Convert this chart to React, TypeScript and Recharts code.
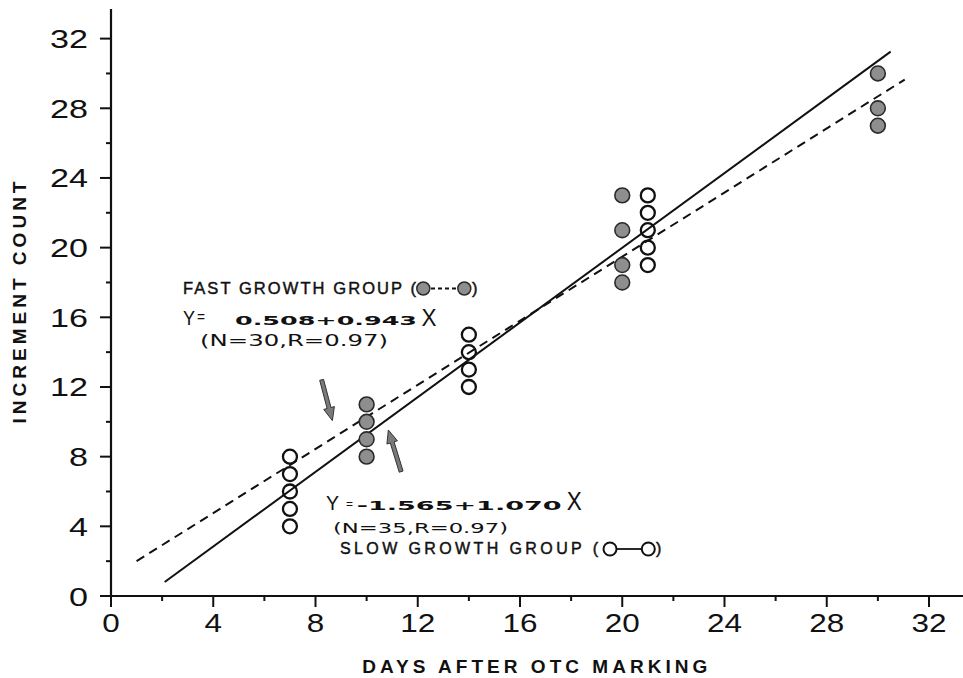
import React from 'react';
import { ScatterChart, Scatter, XAxis, YAxis, ReferenceLine } from 'recharts';

// open circles (slow growth group)
const slowGroup = [
  { x: 7, y: 4 }, { x: 7, y: 5 }, { x: 7, y: 6 }, { x: 7, y: 7 }, { x: 7, y: 8 },
  { x: 14, y: 12 }, { x: 14, y: 13 }, { x: 14, y: 14 }, { x: 14, y: 15 },
  { x: 21, y: 19 }, { x: 21, y: 20 }, { x: 21, y: 21 }, { x: 21, y: 22 }, { x: 21, y: 23 },
];

// filled circles (fast growth group)
const fastGroup = [
  { x: 10, y: 8 }, { x: 10, y: 9 }, { x: 10, y: 10 }, { x: 10, y: 11 },
  { x: 20, y: 18 }, { x: 20, y: 19 }, { x: 20, y: 21 }, { x: 20, y: 23 },
  { x: 30, y: 27 }, { x: 30, y: 28 }, { x: 30, y: 30 },
];

// fitted lines, end points as drawn
const slowFit = [{ x: 2.1, y: 0.8 }, { x: 30.5, y: 31.25 }];
const fastFit = [{ x: 1, y: 2 }, { x: 31.05, y: 29.65 }];

const arrowDown = [{ x: 8.24, y: 12.41 }, { x: 8.66, y: 10.07 }];
const arrowUp = [{ x: 11.35, y: 7.14 }, { x: 10.85, y: 9.53 }];

const xTicks = [0, 2, 4, 6, 8, 10, 12, 14, 16, 18, 20, 22, 24, 26, 28, 30, 32];
const yTicks = [0, 2, 4, 6, 8, 10, 12, 14, 16, 18, 20, 22, 24, 26, 28, 30, 32];

const INK = '#111';
const FONT = '"Liberation Sans", Arial, sans-serif';
const WIDE = '"DejaVu Sans", sans-serif';

const XTick = (props: any) => {
  const { x, y, payload } = props;
  const major = payload.value % 4 === 0;
  const label = String(payload.value);
  return (
    <g>
      <line x1={x} y1={y} x2={x} y2={y + (major ? 11 : 5)} stroke={INK} strokeWidth={2} />
      {major && (
        <text x={x} y={y + 36} textAnchor="middle" fontSize={26} fontFamily={FONT} fill={INK}
          textLength={17.5 * label.length} lengthAdjust="spacingAndGlyphs">
          {label}
        </text>
      )}
    </g>
  );
};

const YTick = (props: any) => {
  const { x, y, payload } = props;
  const major = payload.value % 4 === 0;
  const label = String(payload.value);
  const w = 19 * label.length;
  return (
    <g>
      <line x1={x - (major ? 11 : 5)} y1={y} x2={x} y2={y} stroke={INK} strokeWidth={2} />
      {major && (
        <text x={x - 23 - w} y={y + 9.5} fontSize={26} fontFamily={FONT} fill={INK}
          textLength={w} lengthAdjust="spacingAndGlyphs">
          {label}
        </text>
      )}
    </g>
  );
};

const OpenDot = (props: any) => (
  <circle cx={props.cx} cy={props.cy} r={7} fill="none" stroke={INK} strokeWidth={2.3} />
);

const FilledDot = (props: any) => (
  <circle cx={props.cx} cy={props.cy} r={7.4} fill="#8e8e8e" stroke="#2a2a2a" strokeWidth={1.6} />
);

const NoDot = () => <g />;

const Arrow = (props: any) => {
  const { x1, y1, x2, y2 } = props;
  const len = Math.hypot(x2 - x1, y2 - y1) || 1;
  const ux = (x2 - x1) / len;
  const uy = (y2 - y1) / len;
  const nx = -uy;
  const ny = ux;
  const bx = x2 - ux * 13;
  const by = y2 - uy * 13;
  const pts = [
    [x1 + nx * 2, y1 + ny * 2],
    [bx + nx * 2, by + ny * 2],
    [bx + nx * 5.5, by + ny * 5.5],
    [x2, y2],
    [bx - nx * 5.5, by - ny * 5.5],
    [bx - nx * 2, by - ny * 2],
    [x1 - nx * 2, y1 - ny * 2],
  ]
    .map((p) => p.join(','))
    .join(' ');
  return <polygon points={pts} fill="#7a7a7a" stroke="#333" strokeWidth={1} />;
};

const Annotations = () => (
  <svg width={963} height={678} style={{ position: 'absolute', left: 0, top: 0, pointerEvents: 'none' }}>
    <g fontFamily={FONT} fill={INK}>
      {/* axis titles */}
      <text transform="translate(26, 302.5) rotate(-90)" textAnchor="middle" fontSize={19} fontWeight="bold"
        textLength={242} lengthAdjust="spacing">
        INCREMENT COUNT
      </text>
      <text x={534.8} y={673} textAnchor="middle" fontSize={19} fontWeight="bold"
        textLength={345} lengthAdjust="spacing">
        DAYS AFTER OTC MARKING
      </text>

      {/* group labels */}
      <g stroke={INK} strokeWidth={0.45}>
        <text x={183} y={293.5} fontSize={16.5} textLength={233} lengthAdjust="spacing">
          FAST GROWTH GROUP (
        </text>
        <text x={472} y={293.5} fontSize={16.5}>)</text>
        <text x={340} y={553.5} fontSize={16} textLength={258} lengthAdjust="spacing">
          SLOW GROWTH GROUP (
        </text>
        <text x={656} y={553.5} fontSize={16}>)</text>
      </g>
      <text x={200} y={346} fontSize={15} fontFamily={WIDE} textLength={188} lengthAdjust="spacingAndGlyphs">
        (N=30,R=0.97)
      </text>
      <text x={333} y={533} fontSize={14} fontFamily={WIDE} textLength={175} lengthAdjust="spacingAndGlyphs">
        (N=35,R=0.97)
      </text>

      <line x1={431} y1={288.5} x2={457} y2={288.5} stroke={INK} strokeWidth={1.8} strokeDasharray="4 3" />
      <circle cx={423.3} cy={288.5} r={6.5} fill="#8e8e8e" stroke="#2a2a2a" strokeWidth={1.5} />
      <circle cx={464.3} cy={288.5} r={6.5} fill="#8e8e8e" stroke="#2a2a2a" strokeWidth={1.5} />

      {/* fast growth equation */}
      <text x={183} y={325} fontSize={21} textLength={12} lengthAdjust="spacingAndGlyphs">Y</text>
      <text x={197} y={322} fontSize={14} textLength={8} lengthAdjust="spacingAndGlyphs">=</text>
      <text x={235} y={325} fontSize={13} fontFamily={WIDE} fontWeight="bold" textLength={182}
        lengthAdjust="spacingAndGlyphs">
        0.508+0.943
      </text>
      <text x={421.5} y={325.7} fontSize={24} textLength={15} lengthAdjust="spacingAndGlyphs">X</text>

      {/* slow growth equation */}
      <text x={326} y={510} fontSize={20} textLength={13} lengthAdjust="spacingAndGlyphs">Y</text>
      <text x={346} y={508} fontSize={12} textLength={7} lengthAdjust="spacingAndGlyphs">=</text>
      <text x={356.7} y={510} fontSize={13} fontFamily={WIDE} fontWeight="bold" textLength={205}
        lengthAdjust="spacingAndGlyphs">
        -1.565+1.070
      </text>
      <text x={566.7} y={510} fontSize={26} textLength={15} lengthAdjust="spacingAndGlyphs">X</text>
      <line x1={616} y1={549} x2={642} y2={549} stroke={INK} strokeWidth={1.8} />
      <circle cx={610} cy={549} r={6.5} fill="#fff" stroke={INK} strokeWidth={2} />
      <circle cx={648.3} cy={549} r={6.5} fill="#fff" stroke={INK} strokeWidth={2} />
    </g>
  </svg>
);

export default function App() {
  return (
    <div style={{ position: 'absolute', left: 0, top: 0, width: 963, height: 678, background: '#fff' }}>
      <ScatterChart width={963} height={678} margin={{ top: 9, right: 0, bottom: 52, left: 51 }}>
        <XAxis
          type="number"
          dataKey="x"
          domain={[0, 33.33]}
          ticks={xTicks}
          interval={0}
          allowDataOverflow
          tickSize={0}
          tickMargin={0}
          tickLine={false}
          tick={<XTick />}
          axisLine={{ stroke: INK, strokeWidth: 2.2 }}
        />
        <YAxis
          type="number"
          dataKey="y"
          domain={[0, 33.7]}
          ticks={yTicks}
          interval={0}
          allowDataOverflow
          width={60}
          tickSize={0}
          tickMargin={0}
          tickLine={false}
          tick={<YTick />}
          axisLine={{ stroke: INK, strokeWidth: 2.2 }}
        />
        <Scatter data={fastFit} shape={NoDot} line={{ stroke: INK, strokeWidth: 2, strokeDasharray: '9 6' }}
          isAnimationActive={false} />
        <Scatter data={slowFit} shape={NoDot} line={{ stroke: INK, strokeWidth: 2 }} isAnimationActive={false} />
        <Scatter data={slowGroup} shape={OpenDot} isAnimationActive={false} />
        <Scatter data={fastGroup} shape={FilledDot} isAnimationActive={false} />
        <ReferenceLine segment={arrowDown} shape={Arrow} />
        <ReferenceLine segment={arrowUp} shape={Arrow} />
      </ScatterChart>
      <Annotations />
    </div>
  );
}
